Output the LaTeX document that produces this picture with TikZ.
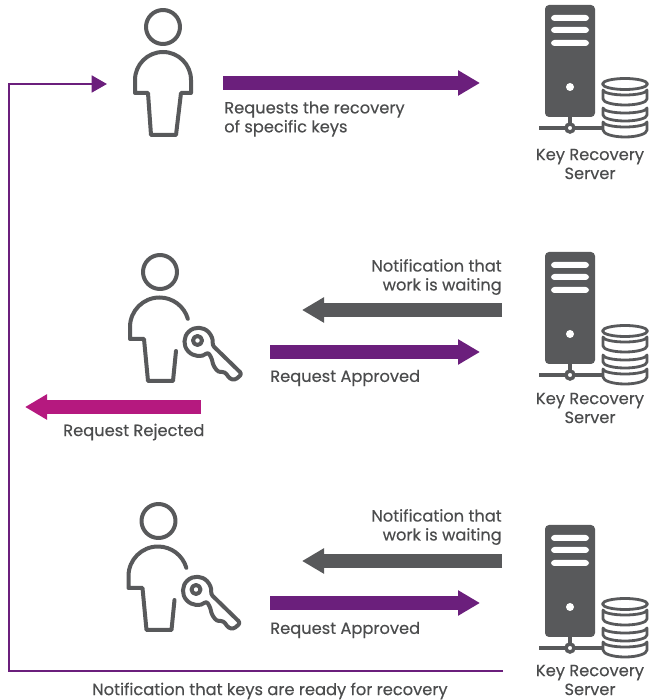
\documentclass[tikz,border=0pt]{standalone}
\usepackage{fontspec}
\setmainfont{Poppins}[FakeBold=0.35]
\usetikzlibrary{arrows.meta}
\definecolor{iconGray}{HTML}{58595B}
\definecolor{flowPurple}{HTML}{6B1F7C}
\definecolor{flowPink}{HTML}{B5197F}
\tikzset{
  label/.style={text=iconGray!85!black, font=\fontsize{12.2}{14.2}\selectfont, inner sep=0pt},
  flow/.style={line width=10pt, -{Triangle[length=16.5pt,width=18pt]}},
  feedback/.style={flowPurple, line width=2.1pt, line join=miter, -{Triangle[length=11.5pt,width=12.5pt]}},
  icon/.style={iconGray, line width=3pt, line join=round, line cap=round},
  dbtier/.style={iconGray, line width=2.1pt, line join=round, line cap=round},
  person/.pic={
    \draw [icon] (0,0) circle (17);
    \draw [icon] (-15,-66) -- (-28,-66) -- (-28,-53) arc (180:0:28) -- (28,-66) -- (18,-66) -- (13,-108) -- (-12,-108) -- cycle;
  },
  keyperson/.pic={
    \draw [icon] (0,0) circle (17);
    \draw [icon] (16,-79) -- (13,-109) -- (-12,-109) -- (-16,-67) -- (-30,-67) -- (-30,-55) arc (180:16:29.5);
    \draw [icon] (37.5,-68.5) circle (4.5);
    \draw [icon, rounded corners=2] (48,-80) arc (-47:-373:14) -- (82,-102) -- (75,-108) -- (70,-107) -- (65,-100) -- (58,-100) -- (53,-93) -- (52,-87) -- cycle;
  },
  server/.pic={
    \fill [iconGray, rounded corners=3] (-25,0) rectangle (25,-112);
    \foreach \slot in {-10,-22,-35}
      \fill [white, rounded corners=2.5] (-19,\slot) rectangle (19,\slot-6);
    \fill [white] (0,-82) circle (4);
    \draw [iconGray, line width=2.6pt] (0,-112) -- (0,-123);
    \draw [iconGray, line width=2.6pt] (-31,-123) -- (32,-123);
    \draw [iconGray, line width=2.6pt, fill=white] (0,-123) circle (4);
    \draw [dbtier] (55,-79) ellipse (22.5 and 5.5);
    \draw [dbtier] (33,-85) -- (33,-94) arc (180:360:22 and 6) -- (77,-85) arc (0:-180:22 and 5);
    \draw [dbtier] (33,-103) -- (33,-110) arc (180:360:22 and 6) -- (77,-103) arc (0:-180:22 and 5);
    \draw [dbtier] (33,-117) -- (33,-125) arc (180:360:22 and 7) -- (77,-117) arc (0:-180:22 and 5);
  }
}
\begin{document}
\begin{tikzpicture}[x=0.75pt, y=0.75pt]
  \useasboundingbox (0,0) rectangle (649,700);

  \pic at (163,673) {person};
  \pic at (570,695) {server};
  \node [label, align=center] (serverA) at (590,536) {Key Recovery\\Server};
  \coordinate (requestStart) at (223,617);
  \coordinate (requestEnd) at (480,617);
  \draw [flow, flowPurple] (requestStart) -- (requestEnd);
  \node [label, align=left, anchor=west] (requestText) at (224,581) {Requests the recovery\\of specific keys};

  \pic at (160,428) {keyperson};
  \pic at (570,448) {server};
  \node [label, align=center] (serverB) at (590,292) {Key Recovery\\Server};
  \coordinate (waitStartB) at (502,390);
  \coordinate (waitEndB) at (302,390);
  \draw [flow, iconGray] (waitStartB) -- (waitEndB);
  \node [label, align=right, anchor=east] (waitTextB) at (502,423) {Notification that\\work is waiting};
  \coordinate (approveStartB) at (270,348);
  \coordinate (approveEndB) at (480,348);
  \draw [flow, flowPurple] (approveStartB) -- (approveEndB);
  \node [label, anchor=west] (approveTextB) at (270,322) {Request Approved};
  \coordinate (rejectStart) at (201,293);
  \coordinate (rejectEnd) at (25,293);
  \draw [flow, flowPink] (rejectStart) -- (rejectEnd);
  \node [label, anchor=west] (rejectText) at (63,268) {Request Rejected};

  \pic at (158.5,179) {keyperson};
  \pic at (570,175) {server};
  \node [label, align=center] (serverC) at (590,20) {Key Recovery\\Server};
  \coordinate (waitStartC) at (502,139);
  \coordinate (waitEndC) at (302,139);
  \draw [flow, iconGray] (waitStartC) -- (waitEndC);
  \node [label, align=right, anchor=east] (waitTextC) at (502,173) {Notification that\\work is waiting};
  \coordinate (approveStartC) at (270,97);
  \coordinate (approveEndC) at (480,97);
  \draw [flow, flowPurple] (approveStartC) -- (approveEndC);
  \node [label, anchor=west] (approveTextC) at (270,70) {Request Approved};

  \coordinate (readyStart) at (503,29);
  \coordinate (readyEnd) at (107,616);
  \draw [feedback] (readyStart) -| (9,616) -- (readyEnd);
  \node [label, anchor=west] (readyText) at (92,9) {Notification that keys are ready for recovery};
\end{tikzpicture}
\end{document}
